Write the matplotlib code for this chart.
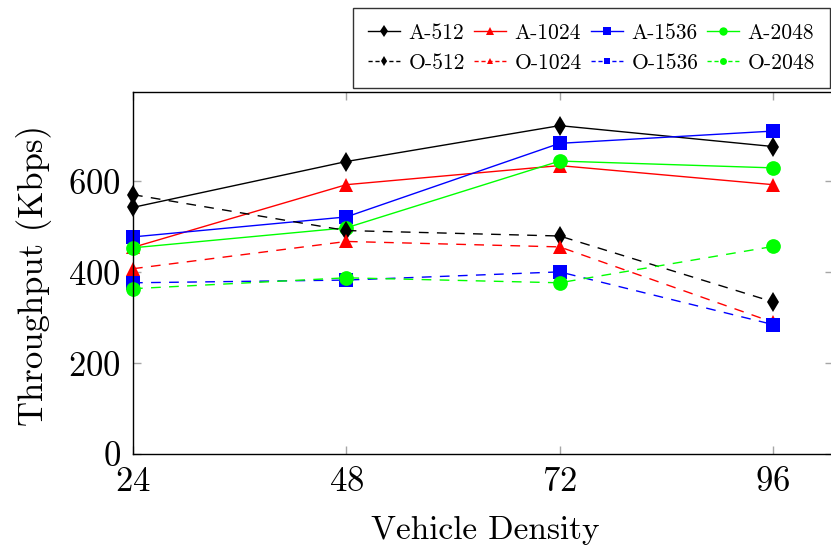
import matplotlib
matplotlib.use("Agg")
import matplotlib.pyplot as plt
from matplotlib.lines import Line2D

plt.rcParams['font.family'] = ['cmr10', 'DejaVu Serif']
plt.rcParams['axes.formatter.use_mathtext'] = True
plt.rcParams['mathtext.fontset'] = 'cm'

density = [24, 48, 72, 96]

a_512 = [543, 644, 723, 677]
a_1024 = [455, 593, 635, 593]
a_1536 = [478, 522, 684, 711]
a_2048 = [454, 498, 645, 630]
o_512 = [571, 492, 480, 335]
o_1024 = [408, 468, 456, 290]
o_1536 = [377, 383, 401, 285]
o_2048 = [364, 388, 377, 457]

series = [
    ("A-512", a_512, "black", "d", "-"),
    ("A-1024", a_1024, "#ff0000", "^", "-"),
    ("A-1536", a_1536, "#0000ff", "s", "-"),
    ("A-2048", a_2048, "#00ff00", "o", "-"),
    ("O-512", o_512, "black", "d", "--"),
    ("O-1024", o_1024, "#ff0000", "^", "--"),
    ("O-1536", o_1536, "#0000ff", "s", "--"),
    ("O-2048", o_2048, "#00ff00", "o", "--"),
]

marker_sizes = {"d": 9.7, "^": 10, "s": 10.3, "o": 10.6}

fig = plt.figure(figsize=(8.31, 5.5), dpi=100)
ax = fig.add_axes([0.16005, 0.1745, 0.8424, 0.6582])

for name, vals, col, mk, ls in series:
    line, = ax.plot(density, vals, color=col, marker=mk, linestyle=ls,
                    linewidth=1.0, markersize=marker_sizes[mk],
                    markeredgewidth=0, clip_on=False)
    if ls == "--":
        line.set_dashes((7, 6))

ax.set_xlim(24, 102.75)
ax.set_ylim(0, 797)
ax.set_xticks(density)
ax.set_yticks([0, 200, 400, 600])

for sp in ax.spines.values():
    sp.set_linewidth(1.0)
    sp.set_color("black")

ax.tick_params(direction="in", length=6, width=1.0, color="0.65",
               top=True, right=True, labelsize=25, pad=9)

ax.set_xlabel("Vehicle Density", fontsize=24)
ax.set_ylabel("Throughput (Kbps)", fontsize=25)
ax.xaxis.set_label_coords(0.503, -0.172)
ax.yaxis.set_label_coords(-0.116, 0.494)

# Legend proxies with compact markers; column-major order gives A row / O row
order = [0, 4, 1, 5, 2, 6, 3, 7]
handles = []
labels = []
for i in order:
    name, vals, col, mk, ls = series[i]
    small = 6 if ls == "-" else 5
    h = Line2D([], [], color=col, marker=mk, linestyle=ls, linewidth=1.0,
               markersize=small, markeredgewidth=0)
    if ls == "--":
        h.set_dashes((3, 2))
    handles.append(h)
    labels.append(name)

leg = fig.legend(handles, labels, ncol=4, loc="upper right",
                 bbox_to_anchor=(830 / 831, 1 - 8 / 550), borderaxespad=0,
                 fontsize=15.5, frameon=True, fancybox=False,
                 handlelength=1.5, handletextpad=0.38, columnspacing=0.42,
                 labelspacing=0.5, borderpad=0.7)
leg.get_frame().set_edgecolor("black")
leg.get_frame().set_linewidth(1.0)

fig.savefig("out.png", dpi=100)
